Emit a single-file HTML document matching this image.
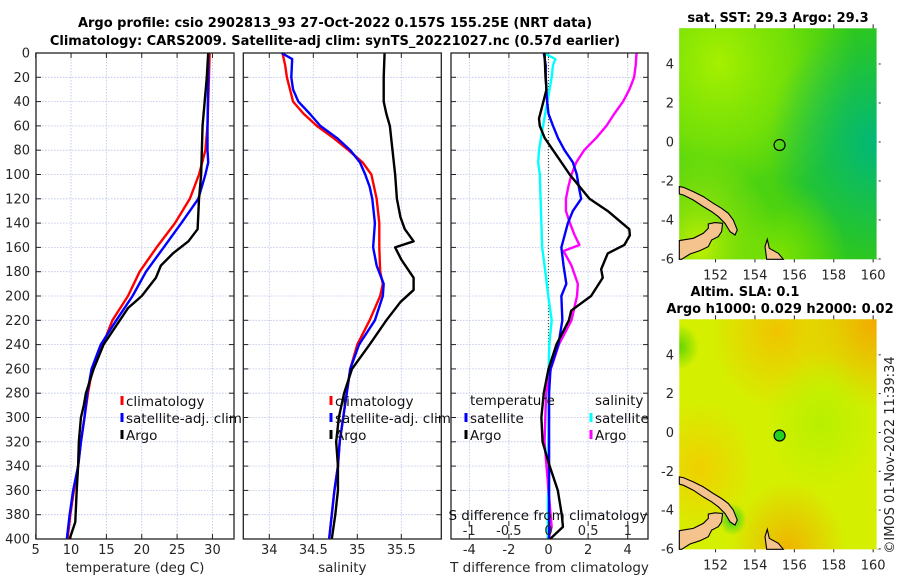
<!DOCTYPE html>
<html><head><meta charset="utf-8"><style>
html,body{margin:0;padding:0;background:#fff;}
svg{display:block;font-family:"DejaVu Sans","Liberation Sans",sans-serif;}
</style></head><body>
<svg id="fig" width="900" height="580" viewBox="0 0 900 580" xmlns="http://www.w3.org/2000/svg">
<defs>
<radialGradient id="sstA" cx="0.2" cy="0.15" r="0.7"><stop offset="0" stop-color="#a6f000"/><stop offset="0.5" stop-color="#90ea00" stop-opacity="0.7"/><stop offset="1" stop-color="#90ea00" stop-opacity="0"/></radialGradient>
<radialGradient id="sstB" cx="1" cy="0.5" r="0.55"><stop offset="0" stop-color="#00b878"/><stop offset="1" stop-color="#00b878" stop-opacity="0"/></radialGradient>
<radialGradient id="sstC" cx="0.1" cy="0.95" r="0.4"><stop offset="0" stop-color="#c0f000"/><stop offset="1" stop-color="#c0f000" stop-opacity="0"/></radialGradient>
<radialGradient id="sstD" cx="0.5" cy="1" r="0.35"><stop offset="0" stop-color="#80e400"/><stop offset="1" stop-color="#80e400" stop-opacity="0"/></radialGradient>
<radialGradient id="slaA" cx="1" cy="0" r="0.4"><stop offset="0" stop-color="#f4a800"/><stop offset="1" stop-color="#f4a800" stop-opacity="0"/></radialGradient>
<radialGradient id="slaB" cx="0.5" cy="0.05" r="0.35"><stop offset="0" stop-color="#f0c400"/><stop offset="1" stop-color="#f0c400" stop-opacity="0"/></radialGradient>
<radialGradient id="slaC" cx="0.55" cy="1" r="0.3"><stop offset="0" stop-color="#f0b400"/><stop offset="1" stop-color="#f0b400" stop-opacity="0"/></radialGradient>
<radialGradient id="slaD" cx="0" cy="0.12" r="0.1"><stop offset="0" stop-color="#60d400"/><stop offset="1" stop-color="#60d400" stop-opacity="0"/></radialGradient>
<radialGradient id="slaE" cx="0.72" cy="0.45" r="0.3"><stop offset="0" stop-color="#b8f000"/><stop offset="1" stop-color="#b8f000" stop-opacity="0"/></radialGradient>
<radialGradient id="slaF" cx="0.27" cy="0.87" r="0.07"><stop offset="0" stop-color="#30d020"/><stop offset="1" stop-color="#30d020" stop-opacity="0"/></radialGradient>
<radialGradient id="slaG" cx="0.1" cy="0.65" r="0.3"><stop offset="0" stop-color="#f0d000"/><stop offset="1" stop-color="#f0d000" stop-opacity="0"/></radialGradient>
</defs>
<text x="335" y="27" text-anchor="middle" font-size="13" font-weight="bold">Argo profile: csio 2902813_93 27-Oct-2022 0.157S 155.25E (NRT data)</text>
<text x="335" y="45" text-anchor="middle" font-size="13" font-weight="bold">Climatology: CARS2009. Satellite-adj clim: synTS_20221027.nc (0.57d earlier)</text>
<g id="g"></g>
</svg>
<script>
// ---------- data ----------
const depthTicks = [0,20,40,60,80,100,120,140,160,180,200,220,240,260,280,300,320,340,360,380,400];
const tempTicks = [5,10,15,20,25,30];
const salTicks = [34,34.5,35,35.5];
const tdiffTicks = [-4,-2,0,2,4];
const sdiffTicks = [-1,-0.5,0,0.5,1];
const sdiffTickLabels = ['-1','-0.5','0','0.5','1'];

const tClimDepth = [0,20,40,60,80,100,120,140,160,180,200,220,240,260,280,300,320,340,360,380,400];
const tClimVal   = [29.6,29.5,29.4,29.3,29.0,28.1,26.8,24.7,22.1,19.7,18.05,15.85,14.5,13.0,12.4,11.9,11.4,11.0,10.4,9.9,9.5];
const tSatDepth  = [0,20,40,60,80,90,100,120,140,160,180,200,220,240,260,280,300,320,340,360,380,400];
const tSatVal    = [29.4,29.4,29.35,29.3,29.3,29.4,29.0,28.0,25.6,23.1,20.6,18.7,16.4,14.2,12.9,12.3,11.9,11.4,11.0,10.3,9.8,9.4];
const tArgoDepth = [0,20,40,60,80,100,120,145,155,165,175,185,200,210,220,240,260,280,290,300,320,340,360,386,400];
const tArgoVal   = [29.4,29.2,28.9,28.6,28.5,28.4,28.1,27.9,26.6,24.4,22.7,22.0,20.0,18.05,16.9,14.6,13.2,12.1,11.8,11.4,11.1,11.0,10.8,10.6,9.8];

const sClimDepth = [0,10,20,40,50,60,70,80,90,100,120,140,160,180,190,200,220,240,260,280,300,320,340,360,380,400];
const sClimVal   = [34.15,34.18,34.2,34.27,34.39,34.54,34.73,34.90,35.06,35.16,35.22,35.25,35.25,35.26,35.29,35.26,35.14,35.0,34.92,34.88,34.84,34.80,34.78,34.74,34.71,34.68];
const sSatDepth  = [0,5,20,30,40,50,60,70,80,90,100,110,120,140,160,175,190,200,220,240,260,280,300,320,340,360,380,400];
const sSatVal    = [34.14,34.26,34.25,34.27,34.33,34.46,34.58,34.77,34.92,35.03,35.09,35.14,35.17,35.2,35.18,35.22,35.3,35.29,35.2,35.02,34.92,34.88,34.84,34.80,34.78,34.74,34.71,34.68];
const sArgoDepth = [0,20,40,50,60,80,100,120,135,145,155,160,170,185,195,205,220,240,260,280,300,320,340,360,380,400];
const sArgoVal   = [35.31,35.30,35.30,35.33,35.37,35.40,35.43,35.45,35.49,35.54,35.64,35.43,35.50,35.64,35.64,35.49,35.33,35.14,34.94,34.85,34.79,34.76,34.78,34.78,34.75,34.71];

const dTSatDepth  = [0,10,20,40,50,60,70,80,90,100,110,120,130,140,160,175,190,200,220,240,260,280,320,360,400];
const dTSatVal    = [-0.24,-0.14,-0.14,-0.07,0.0,0.23,0.48,0.81,1.23,1.43,1.53,1.65,1.23,0.98,0.65,0.76,0.9,0.65,0.7,0.5,0.1,0.03,0.03,0.03,0.03];
const dTArgoDepth = [0,20,30,54,60,70,80,90,100,110,120,130,145,150,158,165,178,185,200,212,220,240,260,280,300,320,340,360,380,390,400];
const dTArgoVal   = [-0.2,-0.15,-0.1,-0.48,-0.44,-0.19,0.23,0.65,1.07,1.57,2.07,2.99,4.08,4.11,3.83,2.99,2.66,2.74,2.15,1.15,1.03,0.4,0.0,-0.24,-0.36,-0.3,0.06,0.47,0.67,0.73,0.08];
const dSSatDepth  = [0,5,10,20,40,60,80,90,100,120,160,180,200,220,240,270,300,400];
const dSSatVal    = [-0.057,0.087,0.057,0.04,-0.014,-0.069,-0.12,-0.13,-0.11,-0.10,-0.08,-0.04,-0.003,0.04,0.01,0.0,0.0,-0.01];
const dSArgoDepth = [0,10,20,30,40,50,60,70,80,90,100,110,120,130,140,150,158,163,175,190,200,220,240,260,280,320,360,390,400];
const dSArgoVal   = [1.11,1.10,1.08,1.02,0.94,0.83,0.73,0.60,0.45,0.35,0.29,0.25,0.22,0.22,0.27,0.33,0.39,0.19,0.29,0.37,0.36,0.29,0.13,0.03,-0.03,-0.05,0.0,0.04,0.0];

const lonTicks = [152,154,156,158,160];
const latTicks = [4,2,0,-2,-4,-6];
const argoLon = 155.25, argoLat = -0.157;

// ---------- helpers ----------
const NS='http://www.w3.org/2000/svg';
const G=document.getElementById('g');
function el(tag,attrs,parent){const e=document.createElementNS(NS,tag);for(const k in attrs)e.setAttribute(k,attrs[k]);(parent||G).appendChild(e);return e;}
function txt(s,attrs,parent){const e=el('text',attrs,parent);e.textContent=s;return e;}
const Y0=53, Y1=539;
function yD(d){return Y0+(Y1-Y0)*d/400;}
function xTemp(t){return 35.7+(t-5)*7.07;}
function xSal(s){return 269.3+(s-34)*88;}
function xTd(t){return 548.5+t*19.8;}
function xSd(s){return 548.5+s*79.3;}

const panels=[
 {name:'temperature-panel',l:36,r:234,xf:xTemp,ticks:tempTicks,labels:tempTicks.map(String),title:'temperature (deg C)',ylabels:true},
 {name:'salinity-panel',l:243.3,r:441.3,xf:xSal,ticks:salTicks,labels:['34','34.5','35','35.5'],title:'salinity',ylabels:false},
 {name:'difference-panel',l:451,r:648,xf:xTd,ticks:tdiffTicks,labels:tdiffTicks.map(String),title:'T difference from climatology',ylabels:false}
];
panels.forEach(p=>{
  const g=el('g',{});
  
  
  el('rect',{x:p.l,y:Y0,width:p.r-p.l,height:Y1-Y0,fill:'#fff'},g);
  depthTicks.forEach(d=>{
    const y=yD(d);
    const gl=el('line',{x1:p.l,x2:p.r,y1:y,y2:y,stroke:'#b8c0e8','stroke-width':0.8,'stroke-dasharray':'1.5,1.5'},g);
    
    
    el('line',{x1:p.l,x2:p.l+5,y1:y,y2:y,stroke:'#222','stroke-width':1},g);
    el('line',{x1:p.r-5,x2:p.r,y1:y,y2:y,stroke:'#222','stroke-width':1},g);
    if(p.ylabels){
      const t=txt(String(d),{x:30,y:y+4.5,'text-anchor':'end','font-size':13,fill:'#262626'},g);
      
      
    }
  });
  p.ticks.forEach((v,i)=>{
    const x=p.xf(v);
    const gl=el('line',{x1:x,x2:x,y1:Y0,y2:Y1,stroke:'#b8c0e8','stroke-width':0.8,'stroke-dasharray':'1.5,1.5'},g);
    
    
    el('line',{x1:x,x2:x,y1:Y0,y2:Y0+5,stroke:'#222'},g);
    el('line',{x1:x,x2:x,y1:Y1-5,y2:Y1,stroke:'#222'},g);
    const t=txt(p.labels[i],{x:x,y:554,'text-anchor':'middle','font-size':13,fill:'#262626'},g);
    
    
  });
  const at=txt(p.title,{x:(p.l+p.r)/2,y:572,'text-anchor':'middle','font-size':13.5,fill:'#262626'},g);
  
  
});
const zl=el('line',{x1:xTd(0),x2:xTd(0),y1:Y0,y2:Y1,stroke:'#445533','stroke-width':1.2,'stroke-dasharray':'1,2'});



function series(name,depths,vals,xf,color,w){
  const pts=depths.map((d,i)=>xf(vals[i]).toFixed(2)+','+yD(d).toFixed(2)).join(' ');
  const p=el('polyline',{points:pts,fill:'none',stroke:color,'stroke-width':w||2.4,'stroke-linejoin':'round'});
  
  
}
series('temp-climatology-line',tClimDepth,tClimVal,xTemp,'#ff0000');
series('temp-satellite-line',tSatDepth,tSatVal,xTemp,'#0000ff');
series('temp-argo-line',tArgoDepth,tArgoVal,xTemp,'#000000');
series('sal-climatology-line',sClimDepth,sClimVal,xSal,'#ff0000');
series('sal-satellite-line',sSatDepth,sSatVal,xSal,'#0000ff');
series('sal-argo-line',sArgoDepth,sArgoVal,xSal,'#000000');
series('sdiff-satellite-line',dSSatDepth,dSSatVal,xSd,'#00ffff');
series('sdiff-argo-line',dSArgoDepth,dSArgoVal,xSd,'#ff00ff');
series('tdiff-satellite-line',dTSatDepth,dTSatVal,xTd,'#0000ff');
series('tdiff-argo-line',dTArgoDepth,dTArgoVal,xTd,'#000000');

panels.forEach(p=>{el('rect',{x:p.l,y:Y0,width:p.r-p.l,height:Y1-Y0,fill:'none',stroke:'#222','stroke-width':1.3});});

function legend(x,y,color,label){
  const g=el('g',{});
  
  
  el('rect',{x:x-1.5,y:y-10,width:3,height:9,fill:color},g);
  txt(label,{x:x+4,y:y,'font-size':13.5,fill:'#111'},g);
}
[[122,'#ff0000','climatology'],[122,'#0000ff','satellite-adj. clim'],[122,'#000000','Argo']].forEach((e,i)=>legend(e[0],406+i*17,e[1],e[2]));
[[331,'#ff0000','climatology'],[331,'#0000ff','satellite-adj. clim'],[331,'#000000','Argo']].forEach((e,i)=>legend(e[0],406+i*17,e[1],e[2]));
const lt=txt('temperature',{x:470,y:405,'font-size':13.5,fill:'#111'});


const ls=txt('salinity',{x:595,y:405,'font-size':13.5,fill:'#111'});


legend(466,423,'#0000ff','satellite');
legend(466,440,'#000000','Argo');
legend(591,423,'#00ffff','satellite');
legend(591,440,'#ff00ff','Argo');

const sdt=txt('S difference from climatology',{x:548,y:520,'text-anchor':'middle','font-size':13.5,fill:'#111'});


sdiffTicks.forEach((v,i)=>{
  const x=xSd(v);
  el('line',{x1:x,x2:x,y1:521,y2:526,stroke:'#222'});
  const t=txt(sdiffTickLabels[i],{x:x,y:535,'text-anchor':'middle','font-size':13,fill:'#262626'});
  
  
});

// ---------- maps ----------
const coastNI=[[88,560],[100,562],[130,575],[160,590],[190,610],[215,625],[235,640],[250,660],[262,690],[255,705],[240,695],[225,670],[205,650],[185,635],[160,620],[130,600],[100,585],[88,582]];
const coastNB=[[88,722],[130,715],[160,700],[175,685],[175,672],[195,668],[218,670],[215,695],[205,710],[185,720],[175,740],[150,752],[120,762],[95,778],[88,778]];
const coastBG=[[345,740],[352,718],[358,745],[385,760],[400,778],[350,778]];
function drawMap(name,top,bot,grads,base,circleFill){
  const L=679.3,R=876.7;
  const g=el('g',{});
  
  
  const lonX=lon=>L+(lon-150.16)*(R-L)/10.02;
  const latY=lat=>top+(5.83-lat)*(bot-top)/11.85;
  el('rect',{x:L,y:top,width:R-L,height:bot-top,fill:base},g);
  grads.forEach(id=>el('rect',{x:L,y:top,width:R-L,height:bot-top,fill:'url(#'+id+')'},g));
  [coastNI,coastNB,coastBG].forEach(c=>{
    const pts=c.map(p=>(L+(p[0]-88)/592*(R-L)).toFixed(1)+','+(top+(p[1]-85)/693*(bot-top)).toFixed(1)).join(' ');
    const pg=el('polygon',{points:pts,fill:'#f5c38e',stroke:'#000','stroke-width':1.1},g);
    
    
  });
  const c=el('circle',{cx:lonX(argoLon),cy:latY(argoLat),r:5.5,fill:circleFill,stroke:'#000','stroke-width':1.2},g);
  
  
  lonTicks.forEach(v=>{
    const x=lonX(v);
    el('line',{x1:x,x2:x,y1:bot,y2:bot+3,stroke:'#222'},g);
    el('line',{x1:x,x2:x,y1:top-4,y2:top,stroke:'#222'},g);
    const t=txt(String(v),{x:x,y:bot+20,'text-anchor':'middle','font-size':13,fill:'#262626'},g);
    
    
  });
  latTicks.forEach(v=>{
    const y=latY(v);
    el('line',{x1:R,x2:R+4,y1:y,y2:y,stroke:'#222'},g);
    const t=txt(String(v),{x:674,y:y+4.5,'text-anchor':'end','font-size':13,fill:'#262626'},g);
    
    
  });
  el('line',{x1:R+1,x2:R+1,y1:top,y2:bot,stroke:'#fff','stroke-width':2},g);
}
drawMap('sst-map',28.3,259.3,['sstA','sstB','sstC','sstD'],'#30c818','none');
drawMap('sla-map',319.3,549.3,['slaG','slaA','slaB','slaC','slaD','slaE','slaF'],'#d4f000','#22d022');

const m1=txt('sat. SST: 29.3 Argo: 29.3',{x:778,y:22,'text-anchor':'middle','font-size':13,'font-weight':'bold'});


const m2=txt('Altim. SLA: 0.1',{x:745,y:296,'text-anchor':'middle','font-size':13,'font-weight':'bold'});


const m3=txt('Argo h1000: 0.029 h2000: 0.02',{x:780,y:313,'text-anchor':'middle','font-size':13,'font-weight':'bold'});


const cr=txt('©IMOS 01-Nov-2022 11:39:34',{x:0,y:0,'text-anchor':'middle','font-size':13,fill:'#222',transform:'translate(894,455) rotate(-90)'});


</script>
</body></html>
